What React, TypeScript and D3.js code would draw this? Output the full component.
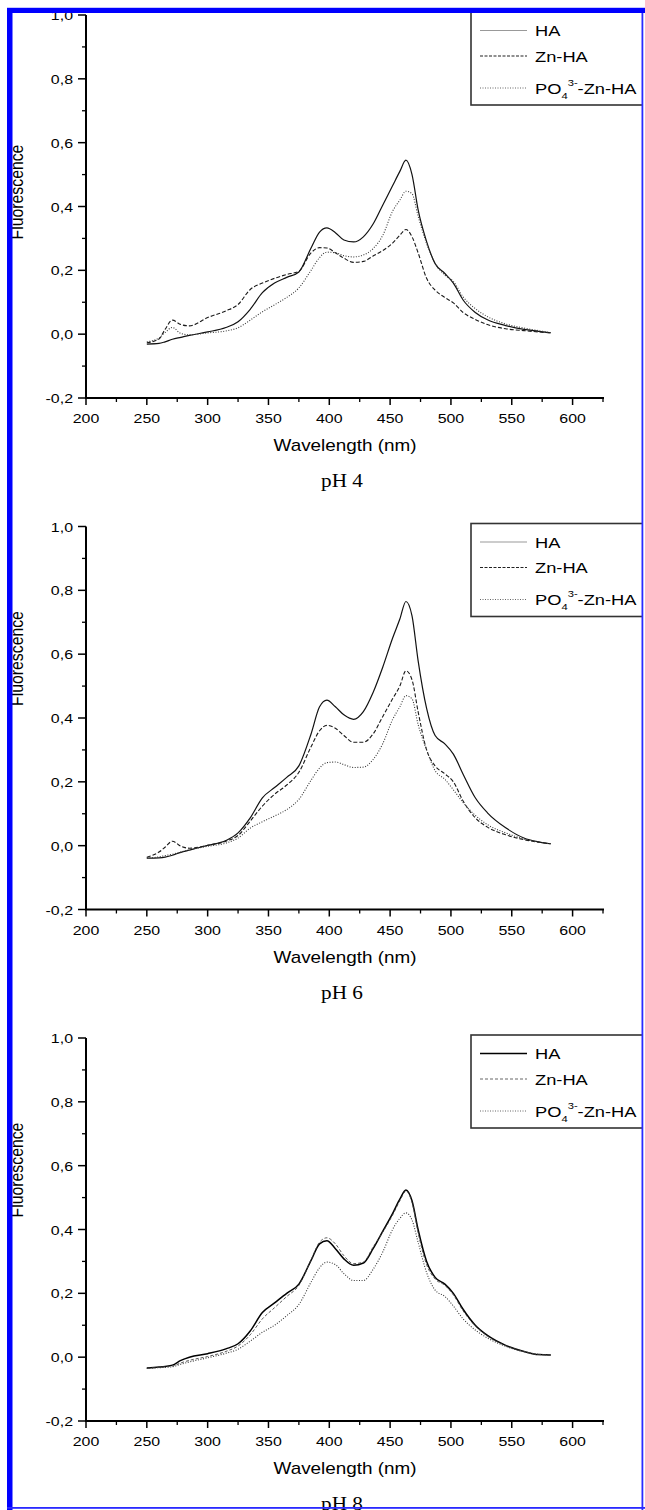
import * as d3 from "d3";

// wavelength grid (nm) shared by all curves
const WAVELENGTH = [
  250, 260, 265, 271, 278, 285, 300, 315, 325, 335, 345, 355, 365, 375, 385,
  392, 398, 405, 412, 420, 428, 436, 444, 452, 458, 463, 468, 473, 480, 487,
  495, 502, 510, 520, 530, 545, 560, 572, 582,
];

// pH 4
const PH4_HA = [
  -0.031, -0.029, -0.024, -0.016, -0.01, -0.004, 0.007, 0.021, 0.039, 0.078,
  0.13, 0.16, 0.178, 0.195, 0.27, 0.32, 0.333, 0.318, 0.295, 0.289, 0.305,
  0.345, 0.405, 0.465, 0.51, 0.545, 0.5, 0.39, 0.29, 0.221, 0.19, 0.16, 0.107,
  0.068, 0.045, 0.027, 0.015, 0.009, 0.004,
];
const PH4_ZN = [
  -0.027, -0.015, 0.015, 0.044, 0.03, 0.026, 0.052, 0.073, 0.093, 0.14, 0.16,
  0.175, 0.187, 0.197, 0.255, 0.271, 0.27, 0.255, 0.238, 0.225, 0.228, 0.245,
  0.262, 0.285, 0.31, 0.328, 0.305, 0.255, 0.175, 0.138, 0.115, 0.098, 0.068,
  0.046, 0.03, 0.017, 0.011, 0.007, 0.004,
];
const PH4_PO4 = [
  -0.024, -0.012, 0.005, 0.021, 0.002, -0.002, 0.004, 0.01, 0.02, 0.044, 0.07,
  0.092, 0.115, 0.145, 0.2, 0.24, 0.257, 0.255, 0.246, 0.242, 0.248, 0.268,
  0.31, 0.385, 0.42, 0.448, 0.44, 0.37, 0.284, 0.222, 0.185, 0.165, 0.117,
  0.08, 0.055, 0.032, 0.019, 0.011, 0.005,
];

// pH 6
const PH6_HA = [
  -0.039, -0.038, -0.036, -0.03, -0.021, -0.014, 0.001, 0.016, 0.04, 0.087,
  0.15, 0.182, 0.214, 0.25, 0.35, 0.435, 0.456, 0.435, 0.41, 0.396, 0.42,
  0.48, 0.56, 0.65, 0.71, 0.765, 0.72, 0.58, 0.43, 0.345, 0.319, 0.287, 0.224,
  0.15, 0.103, 0.056, 0.024, 0.012, 0.006,
];
const PH6_ZN = [
  -0.036, -0.02, -0.005, 0.014, -0.002, -0.008, 0.001, 0.014, 0.032, 0.077,
  0.124, 0.161, 0.19, 0.23, 0.31, 0.36, 0.377, 0.368, 0.345, 0.324, 0.324,
  0.35, 0.405, 0.46, 0.5, 0.548, 0.52, 0.42, 0.3, 0.25, 0.225, 0.2, 0.14,
  0.087, 0.058, 0.034, 0.019, 0.011, 0.006,
];
const PH6_PO4 = [
  -0.039, -0.035, -0.031, -0.027, -0.02, -0.013, -0.002, 0.008, 0.024, 0.055,
  0.075, 0.093, 0.113, 0.145, 0.205, 0.243, 0.26, 0.262, 0.254, 0.245, 0.246,
  0.27, 0.32, 0.395, 0.435, 0.47, 0.46, 0.38, 0.3, 0.235, 0.208, 0.175, 0.135,
  0.095, 0.066, 0.04, 0.021, 0.011, 0.006,
];

// pH 8
const PH8_HA = [
  -0.034, -0.031, -0.029, -0.025, -0.01, 0.0, 0.011, 0.026, 0.042, 0.082,
  0.14, 0.17, 0.2, 0.229, 0.303, 0.355, 0.365, 0.34, 0.308, 0.288, 0.295,
  0.34, 0.395, 0.45, 0.495, 0.524, 0.49, 0.4, 0.3, 0.25, 0.229, 0.2, 0.15,
  0.1, 0.068, 0.037, 0.018, 0.008, 0.007,
];
const PH8_ZN = [
  -0.035, -0.032, -0.03, -0.028, -0.018, -0.01, 0.002, 0.018, 0.035, 0.07,
  0.12, 0.155, 0.19, 0.225, 0.305, 0.36, 0.374, 0.355, 0.318, 0.293, 0.298,
  0.345, 0.392, 0.445, 0.49, 0.52, 0.485, 0.39, 0.29, 0.245, 0.225, 0.195,
  0.145, 0.098, 0.066, 0.036, 0.018, 0.008, 0.007,
];
const PH8_PO4 = [
  -0.035, -0.033, -0.032, -0.03, -0.022, -0.015, -0.002, 0.012, 0.025, 0.05,
  0.078, 0.1, 0.13, 0.165, 0.235, 0.28, 0.298, 0.29, 0.262, 0.24, 0.24, 0.275,
  0.33, 0.4, 0.435, 0.452, 0.43, 0.36, 0.265, 0.21, 0.19, 0.16, 0.12, 0.085,
  0.06, 0.034, 0.017, 0.009, 0.007,
];

const PANEL_TITLES = ["pH 4", "pH 6", "pH 8"];
const SERIES_NAMES = ["HA", "Zn-HA", "PO4-Zn-HA"];
const X_LABEL = "Wavelength (nm)";
const Y_LABEL = "Fluorescence";

const panels = [
  { title: PANEL_TITLES[0], series: [PH4_HA, PH4_ZN, PH4_PO4] },
  { title: PANEL_TITLES[1], series: [PH6_HA, PH6_ZN, PH6_PO4] },
  { title: PANEL_TITLES[2], series: [PH8_HA, PH8_ZN, PH8_PO4] },
];

const W = 645;
const H = 1510;
const SANS = "'Liberation Sans', Arial, Helvetica, sans-serif";
const SERIF = "'Liberation Serif', 'Times New Roman', serif";
const SX = 1.18; // the whole figure is a bit stretched sideways

const comma = d3.formatLocale({
  decimal: ",",
  thousands: ".",
  grouping: [3],
  currency: ["", ""],
  minus: "-",
});
const fmtY = comma.format(".1f");

// line styles per series, panel 3 uses a heavier HA line
const curveStyle = (panel, k) => {
  if (k === 0)
    return panel === 2
      ? { stroke: "#000", width: 1.5, dash: null }
      : { stroke: "#111", width: 1.2, dash: null };
  if (k === 1)
    return panel === 2
      ? { stroke: "#444", width: 0.9, dash: "3,2" }
      : { stroke: "#1a1a1a", width: 1.1, dash: "4,2" };
  return { stroke: "#3a3a3a", width: 1.1, dash: "1,1.6" };
};
const legendStyle = (panel, k) => {
  if (k === 0)
    return panel === 2
      ? { stroke: "#000", width: 1.4, dash: null }
      : { stroke: "#999", width: 1.2, dash: null };
  if (k === 1)
    return panel === 2
      ? { stroke: "#555", width: 0.9, dash: "3,2" }
      : { stroke: "#222", width: 1.2, dash: "3,1.5" };
  return { stroke: "#666", width: 1, dash: "1,1.5" };
};

function SText({ x, y, size, family = SANS, anchor = "start", children }) {
  return (
    <g transform={`translate(${x},${y}) scale(${SX},1)`}>
      <text textAnchor={anchor} fontSize={size} fontFamily={family} fill="#000">
        {children}
      </text>
    </g>
  );
}

function Panel({ index, title, series }) {
  const top = 15 + index * 511.5;
  const x = d3.scaleLinear().domain([200, 625]).range([86, 603]);
  const y = d3.scaleLinear().domain([-0.2, 1.0]).range([top + 383, top]);
  const y0 = y(-0.2);

  const line = (vals) =>
    d3
      .line()
      .x((d, i) => x(WAVELENGTH[i]))
      .y((d) => y(d))
      .curve(d3.curveMonotoneX)(vals);

  const xMajor = d3.range(200, 601, 50);
  const xMinor = d3.range(225, 626, 50);
  const yMajor = y.ticks(6);
  const yMinor = d3.range(-0.1, 1.0, 0.2);

  const lgTop = top - 3;
  const rows = [18.5, 44, 76];

  return (
    <g>
      {/* curves */}
      {series.map((vals, k) => {
        const s = curveStyle(index, k);
        return (
          <path
            key={k}
            d={line(vals)}
            fill="none"
            stroke={s.stroke}
            strokeWidth={s.width}
            strokeDasharray={s.dash ?? undefined}
          />
        );
      })}

      {/* axes */}
      <line x1={86} x2={86} y1={top} y2={y0} stroke="#000" strokeWidth={2} />
      <line x1={85} x2={604} y1={y0} y2={y0} stroke="#000" strokeWidth={2} />
      {xMajor.map((t) => (
        <g key={"xm" + t}>
          <line x1={x(t)} x2={x(t)} y1={y0} y2={y0 + 7} stroke="#000" strokeWidth={1.5} />
          <SText x={x(t)} y={y0 + 25} size={13.5} anchor="middle">
            {t}
          </SText>
        </g>
      ))}
      {xMinor.map((t) => (
        <line key={"xn" + t} x1={x(t)} x2={x(t)} y1={y0} y2={y0 + 4} stroke="#000" strokeWidth={1.3} />
      ))}
      {yMajor.map((t) => (
        <g key={"ym" + t}>
          <line x1={78} x2={86} y1={y(t)} y2={y(t)} stroke="#000" strokeWidth={1.5} />
          <SText x={73} y={y(t) + 5} size={13.5} anchor="end">
            {fmtY(t)}
          </SText>
        </g>
      ))}
      {yMinor.map((t) => (
        <line key={"yn" + t} x1={82} x2={86} y1={y(t)} y2={y(t)} stroke="#000" strokeWidth={1.3} />
      ))}

      {/* axis titles */}
      <SText x={345} y={y0 + 53} size={16} anchor="middle">
        {X_LABEL}
      </SText>
      <SText x={342} y={y0 + 89} size={18} family={SERIF} anchor="middle">
        {title}
      </SText>
      <g transform={`translate(23,${index === 0 ? top + 177 : top + 132}) scale(${SX},1) rotate(-90)`}>
        <text textAnchor="middle" fontSize={15.8} fontFamily={SANS} fill="#000">
          {Y_LABEL}
        </text>
      </g>

      {/* legend */}
      <rect x={471} y={lgTop} width={180} height={93} fill="#fff" stroke="#333" strokeWidth={1.6} />
      {SERIES_NAMES.map((name, k) => {
        const s = legendStyle(index, k);
        const ry = lgTop + rows[k];
        return (
          <g key={name}>
            <line
              x1={480}
              x2={527}
              y1={ry}
              y2={ry}
              stroke={s.stroke}
              strokeWidth={s.width}
              strokeDasharray={s.dash ?? undefined}
            />
            {k < 2 ? (
              <SText x={535} y={ry + 5.5} size={15.5}>
                {name}
              </SText>
            ) : (
              <SText x={535} y={ry + 5.5} size={15.5}>
                PO
                <tspan fontSize={9.5} dy={5}>
                  4
                </tspan>
                <tspan fontSize={9.5} dy={-13}>
                  3-
                </tspan>
                <tspan dy={8}>-Zn-HA</tspan>
              </SText>
            )}
          </g>
        );
      })}
    </g>
  );
}

export default function App() {
  return (
    <div style={{ position: "absolute", left: 0, top: 0 }}>
      <svg width={W} height={H} style={{ display: "block", background: "#fff" }}>
        <rect width={W} height={H} fill="#fff" />
        {panels.map((p, i) => (
          <Panel key={p.title} index={i} title={p.title} series={p.series} />
        ))}
        {/* blue frame */}
        <rect x={0} y={0} width={W} height={7} fill="#fff" />
        <line x1={7} x2={W} y1={7.5} y2={7.5} stroke="#c8c8ff" strokeWidth={1} />
        <rect x={7} y={8} width={5.5} height={H - 8} fill="#0000ff" />
        <rect x={642} y={8} width={W - 642} height={H - 8} fill="#fff" />
        <rect x={641.5} y={8} width={1.8} height={H - 8} fill="#2a2aff" />
        <rect x={7} y={1507} width={W - 7} height={1.8} fill="#2a2aff" />
        <rect x={7} y={8} width={W - 7} height={5} fill="#0000ff" />
      </svg>
    </div>
  );
}
